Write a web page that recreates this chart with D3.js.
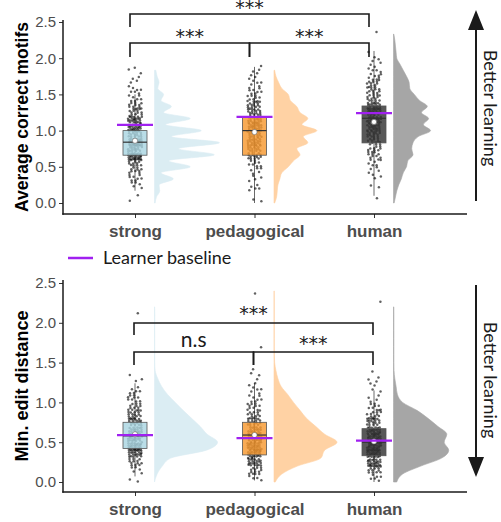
<!DOCTYPE html>
<html>
<head>
<meta charset="utf-8">
<script src="https://cdn.jsdelivr.net/npm/d3@7"></script>
<style>
	body { margin: 0; background: #fff; }
	svg { display: block; }
</style>
</head>
<body>
<div id="chartDiv"></div>
<script>
;(function() {

	var width = 501;
	var height = 522;

	// categories and tick labels
	var categories = ["strong", "pedagogical", "human"];
	var yTicks = [0, 0.5, 1.0, 1.5, 2.0, 2.5];

	// ---- top panel: average correct motifs ----
	// point counts per 0.1 bin (bin lower edges)
	var motifBins = [0, 0.1, 0.2, 0.3, 0.4, 0.5, 0.6, 0.7, 0.8, 0.9, 1.0, 1.1, 1.2, 1.3, 1.4, 1.5, 1.6, 1.7, 1.8, 1.9, 2.0, 2.1, 2.2, 2.3, 2.4];
	var motifCountsStrong = [1, 1, 5, 8, 10, 14, 30, 20, 30, 18, 25, 22, 12, 12, 7, 6, 3, 3, 2, 0, 0, 0, 0, 0, 0];
	var motifCountsPed    = [2, 2, 3, 4, 5, 8, 15, 16, 20, 18, 22, 20, 16, 14, 10, 8, 5, 4, 3, 0, 0, 0, 0, 0, 0];
	var motifCountsHuman  = [1, 0, 2, 3, 4, 6, 9, 10, 12, 16, 20, 22, 20, 20, 14, 12, 10, 8, 5, 4, 2, 0, 0, 1, 0];

	// half-violin density
	var motifGrid = [0, 0.083, 0.167, 0.25, 0.333, 0.417, 0.5, 0.583, 0.667, 0.75, 0.833, 0.917, 1.0, 1.083, 1.167, 1.25, 1.333, 1.417, 1.5, 1.583, 1.667, 1.75, 1.833, 1.917, 2.0, 2.083, 2.167, 2.25, 2.333];
	var motifDensStrong = [0.01, 0.03, 0.08, 0.07, 0.29, 0.1, 0.55, 0.22, 0.92, 0.37, 1.0, 0.26, 0.72, 0.17, 0.55, 0.14, 0.26, 0.1, 0.14, 0.05, 0.07, 0.04, 0.02, null, null, null, null, null, null];
	var motifDensPed    = [0.01, 0.04, 0.05, 0.06, 0.09, 0.12, 0.22, 0.3, 0.4, 0.35, 0.52, 0.45, 0.66, 0.43, 0.52, 0.4, 0.35, 0.25, 0.22, 0.12, 0.07, 0.03, 0.01, null, null, null, null, null, null];
	var motifDensHuman  = [0.01, 0.03, 0.05, 0.08, 0.12, 0.15, 0.2, 0.22, 0.3, 0.28, 0.3, 0.38, 0.57, 0.46, 0.54, 0.43, 0.52, 0.4, 0.32, 0.25, 0.24, 0.2, 0.15, 0.1, 0.05, 0.04, 0.03, 0.02, 0.005];

	// box stats: [whisker low, q1, median, q3, whisker high, mean]
	var motifBoxStrong = [0.17, 0.66, 0.84, 1.0, 1.5, 0.86];
	var motifBoxPed    = [0.0, 0.66, 1.0, 1.18, 1.88, 0.98];
	var motifBoxHuman  = [0.1, 0.83, 1.17, 1.34, 2.1, 1.12];
	var motifBaseline  = [1.08, 1.19, 1.24];

	// ---- bottom panel: min. edit distance ----
	var editBins = [0, 0.1, 0.2, 0.3, 0.4, 0.5, 0.6, 0.7, 0.8, 0.9, 1.0, 1.1, 1.2, 1.3, 1.4, 1.5, 1.6, 1.7, 1.8, 1.9, 2.0, 2.1, 2.2, 2.3, 2.4];
	var editCountsStrong = [2, 5, 12, 22, 28, 25, 22, 18, 16, 12, 9, 6, 2, 1, 0, 0, 0, 0, 0, 0, 0, 1, 0, 0, 0];
	var editCountsPed    = [5, 12, 22, 26, 28, 25, 20, 16, 12, 10, 7, 5, 3, 2, 1, 0, 1, 0, 0, 0, 0, 0, 0, 1, 0];
	var editCountsHuman  = [6, 14, 24, 28, 30, 28, 24, 18, 12, 8, 4, 2, 4, 2, 0, 0, 0, 0, 0, 0, 0, 0, 1, 0, 0];

	var editGrid = [0, 0.1, 0.2, 0.3, 0.4, 0.5, 0.6, 0.7, 0.8, 0.9, 1.0, 1.1, 1.2, 1.3, 1.4, 1.5, 1.6, 1.7, 1.8, 1.9, 2.0, 2.1, 2.2, 2.3, 2.4];
	var editDensStrong = [0.0, 0.04, 0.12, 0.25, 0.8, 0.97, 0.81, 0.7, 0.57, 0.44, 0.32, 0.2, 0.11, 0.05, 0.01, 0.004, 0.003, 0.003, 0.003, 0.003, 0.004, 0.005, 0.003, null, null];
	var editDensPed    = [0.02, 0.12, 0.36, 0.72, 0.78, 0.97, 0.78, 0.64, 0.5, 0.4, 0.3, 0.21, 0.11, 0.06, 0.03, 0.01, 0.005, 0.004, 0.004, 0.004, 0.004, 0.004, 0.004, 0.004, 0.003];
	var editDensHuman  = [0.05, 0.14, 0.42, 0.74, 0.85, 0.78, 0.82, 0.68, 0.53, 0.36, 0.14, 0.06, 0.04, 0.02, 0.008, 0.006, 0.006, 0.006, 0.006, 0.006, 0.006, 0.006, 0.005, null, null];

	var editBoxStrong = [0.07, 0.42, 0.58, 0.75, 1.24, 0.60];
	var editBoxPed    = [0.02, 0.34, 0.59, 0.75, 1.24, 0.59];
	var editBoxHuman  = [0.0, 0.33, 0.5, 0.67, 1.15, 0.51];
	var editBaseline  = [0.59, 0.55, 0.52];

	// styles
	var boxFill = ["#a9d5e2", "#f7982f", "#333333"];
	var violinFill = ["#dbedf3", "#ffd2a4", "#a6a6a6"];
	var baselineColor = "#a020f0";
	var annotFont = "Lato, 'Open Sans', sans-serif";
	var starFont = "'DejaVu Sans', sans-serif";
	var axisFont = "'Liberation Sans', Arial, sans-serif";

	var svg;
	var xScale = d3.scalePoint().domain(categories).range([135, 374]);
	var densWidth = d3.scaleLinear().domain([0, 1]).range([0, 65]);

	init();

	function init() {
		svg = d3.select("#chartDiv").append("svg")
			.attr("width", width)
			.attr("height", height);

		drawPanel({
			yRange: [203, 22], axisTop: 20, axisBottom: 214,
			title: "Average correct motifs", titleSize: 17.5,
			bins: motifBins,
			counts: [motifCountsStrong, motifCountsPed, motifCountsHuman],
			grid: motifGrid,
			dens: [motifDensStrong, motifDensPed, motifDensHuman],
			boxes: [motifBoxStrong, motifBoxPed, motifBoxHuman],
			baseline: motifBaseline,
			bracketDx: -5,
			brackets: [
				{ from: 0, to: 2, y: 14, leg: 13, label: "***", labelY: 14 },
				{ from: 0, to: 1, y: 43, leg: 14, label: "***", labelY: 43 },
				{ from: 1, to: 2, y: 43, leg: 14, label: "***", labelY: 43 }
			]
		});

		drawPanel({
			yRange: [482, 283], axisTop: 280, axisBottom: 492,
			title: "Min. edit distance", titleSize: 18,
			bins: editBins,
			counts: [editCountsStrong, editCountsPed, editCountsHuman],
			grid: editGrid,
			dens: [editDensStrong, editDensPed, editDensHuman],
			boxes: [editBoxStrong, editBoxPed, editBoxHuman],
			baseline: editBaseline,
			bracketDx: -1,
			brackets: [
				{ from: 0, to: 2, y: 323, leg: 12, label: "***", labelY: 320 },
				{ from: 0, to: 1, y: 352, leg: 13, label: "n.s", labelY: 347 },
				{ from: 1, to: 2, y: 352, leg: 13, label: "***", labelY: 350 }
			]
		});

		addLegend();
		addArrow(476, 201, 10, 30, "Better learning", 108);
		addArrow(476, 285, 477, 457, "Better learning", 380);
	}

	function frac(v) { return v - Math.floor(v); }

	function drawPanel(p) {
		var y = d3.scaleLinear().domain([0, 2.5]).range(p.yRange);
		var g = svg.append("g");

		// half violins
		categories.forEach(function(cat, ci) {
			var x0 = xScale(cat) + 19.5;
			var rows = p.grid.map(function(v, i) { return { v: v, d: p.dens[ci][i] }; });
			var area = d3.area()
				.defined(function(d) { return d.d != null; })
				.curve(d3.curveMonotoneY)
				.y(function(d) { return y(d.v); })
				.x0(x0)
				.x1(function(d) { return x0 + densWidth(d.d); });
			g.append("path")
				.datum(rows)
				.attr("d", area)
				.attr("fill", violinFill[ci])
				.attr("stroke", violinFill[ci])
				.attr("stroke-width", 0.6);
		});

		// whiskers
		categories.forEach(function(cat, ci) {
			var b = p.boxes[ci];
			var cx = xScale(cat);
			g.append("line").attr("x1", cx).attr("x2", cx)
				.attr("y1", y(b[0])).attr("y2", y(b[4]))
				.attr("stroke", "#444").attr("stroke-width", 0.8);
		});

		// jittered points
		categories.forEach(function(cat, ci) {
			var pts = [];
			var k = 0;
			p.bins.forEach(function(lo, bi) {
				for (var j = 0; j < p.counts[ci][bi]; j++) {
					pts.push({
						v: lo + 0.1 * frac(k * 0.7548777 + 0.31 + ci * 0.17),
						dx: (frac(k * 0.5698403 + 0.13 + ci * 0.29) - 0.5) * 14
					});
					k++;
				}
			});
			g.selectAll(null)
				.data(pts)
				.enter().append("circle")
					.attr("cx", function(d) { return xScale(cat) + d.dx; })
					.attr("cy", function(d) { return y(d.v); })
					.attr("r", 1.25)
					.attr("fill", "#000")
					.attr("fill-opacity", 0.62);
		});

		// boxes, medians, means
		categories.forEach(function(cat, ci) {
			var b = p.boxes[ci];
			var cx = xScale(cat);
			g.append("rect")
				.attr("x", cx - 12).attr("width", 24)
				.attr("y", y(b[3])).attr("height", y(b[1]) - y(b[3]))
				.attr("fill", boxFill[ci]).attr("fill-opacity", 0.82)
				.attr("stroke", "#555").attr("stroke-width", 0.8);
			g.append("line")
				.attr("x1", cx - 12).attr("x2", cx + 12)
				.attr("y1", y(b[2])).attr("y2", y(b[2]))
				.attr("stroke", "#333").attr("stroke-width", 1.2);
			g.append("circle")
				.attr("cx", cx).attr("cy", y(b[5])).attr("r", 2.6)
				.attr("fill", "#fff").attr("stroke", "#666").attr("stroke-width", 0.6);
			g.append("line")
				.attr("x1", cx - 18).attr("x2", cx + 18)
				.attr("y1", y(p.baseline[ci])).attr("y2", y(p.baseline[ci]))
				.attr("stroke", baselineColor).attr("stroke-width", 2.2);
		});

		// axes
		var yAxis = d3.axisLeft(y)
			.tickValues(yTicks)
			.tickFormat(d3.format(".1f"))
			.tickSize(4)
			.tickPadding(3);
		var yG = g.append("g")
			.attr("transform", "translate(63,0)")
			.call(yAxis);
		yG.select(".domain").remove();
		yG.selectAll("line").attr("stroke", "#333").attr("stroke-width", 1);
		yG.selectAll("text")
			.attr("font-family", axisFont)
			.attr("font-size", "15px")
			.attr("fill", "#4d4d4d");

		var xAxis = d3.axisBottom(xScale).tickSize(4).tickPadding(7);
		var xG = g.append("g")
			.attr("transform", "translate(0," + p.axisBottom + ")")
			.call(xAxis);
		xG.select(".domain").remove();
		xG.selectAll("line").attr("stroke", "#333").attr("stroke-width", 1);
		xG.selectAll("text")
			.attr("font-family", axisFont)
			.attr("font-size", "17px")
			.attr("font-weight", "bold")
			.attr("fill", "#4d4d4d");

		g.append("line")
			.attr("x1", 63).attr("x2", 63)
			.attr("y1", p.axisTop).attr("y2", p.axisBottom + 0.7)
			.attr("stroke", "#1a1a1a").attr("stroke-width", 1.5);
		g.append("line")
			.attr("x1", 62.3).attr("x2", 467)
			.attr("y1", p.axisBottom).attr("y2", p.axisBottom)
			.attr("stroke", "#1a1a1a").attr("stroke-width", 1.5);

		// y title
		var mid = (p.axisTop + p.axisBottom) / 2;
		g.append("text")
			.attr("transform", "translate(28," + mid + ") rotate(-90)")
			.attr("text-anchor", "middle")
			.attr("font-family", axisFont)
			.attr("font-size", p.titleSize + "px")
			.attr("font-weight", "bold")
			.attr("fill", "#000")
			.text(p.title);

		// significance brackets
		p.brackets.forEach(function(br) {
			var xa = xScale(categories[br.from]) + p.bracketDx;
			var xb = xScale(categories[br.to]) + p.bracketDx;
			var isStars = br.label == "***";
			g.append("path")
				.attr("d", "M" + xa + "," + (br.y + br.leg) + "V" + br.y + "H" + xb + "V" + (br.y + br.leg))
				.attr("fill", "none")
				.attr("stroke", "#1a1a1a")
				.attr("stroke-width", 1.6);
			g.append("text")
				.attr("x", (xa + xb) / 2)
				.attr("y", br.labelY)
				.attr("text-anchor", "middle")
				.attr("font-family", isStars ? starFont : annotFont)
				.attr("font-size", isStars ? "19px" : "21px")
				.attr("fill", "#1a1a1a")
				.text(br.label);
		});
	}

	function addLegend() {
		svg.append("line")
			.attr("x1", 68).attr("x2", 93)
			.attr("y1", 258).attr("y2", 258)
			.attr("stroke", baselineColor)
			.attr("stroke-width", 2.5);
		svg.append("text")
			.attr("x", 103).attr("y", 264)
			.attr("font-family", annotFont)
			.attr("font-size", "18px")
			.attr("fill", "#1a1a1a")
			.text("Learner baseline");
	}

	function addArrow(x, yTail, yTip, yBase, label, labelMid) {
		svg.append("line")
			.attr("x1", x).attr("x2", x)
			.attr("y1", yTail).attr("y2", yBase)
			.attr("stroke", "#1a1a1a")
			.attr("stroke-width", 2);
		svg.append("path")
			.attr("d", "M" + x + "," + yTip + "L" + (x - 8) + "," + yBase + "L" + (x + 8) + "," + yBase + "Z")
			.attr("fill", "#1a1a1a");
		svg.append("text")
			.attr("transform", "translate(484," + labelMid + ") rotate(90)")
			.attr("text-anchor", "middle")
			.attr("font-family", annotFont)
			.attr("font-size", "18px")
			.attr("fill", "#1a1a1a")
			.text(label);
	}
})();
</script>
</body>
</html>
